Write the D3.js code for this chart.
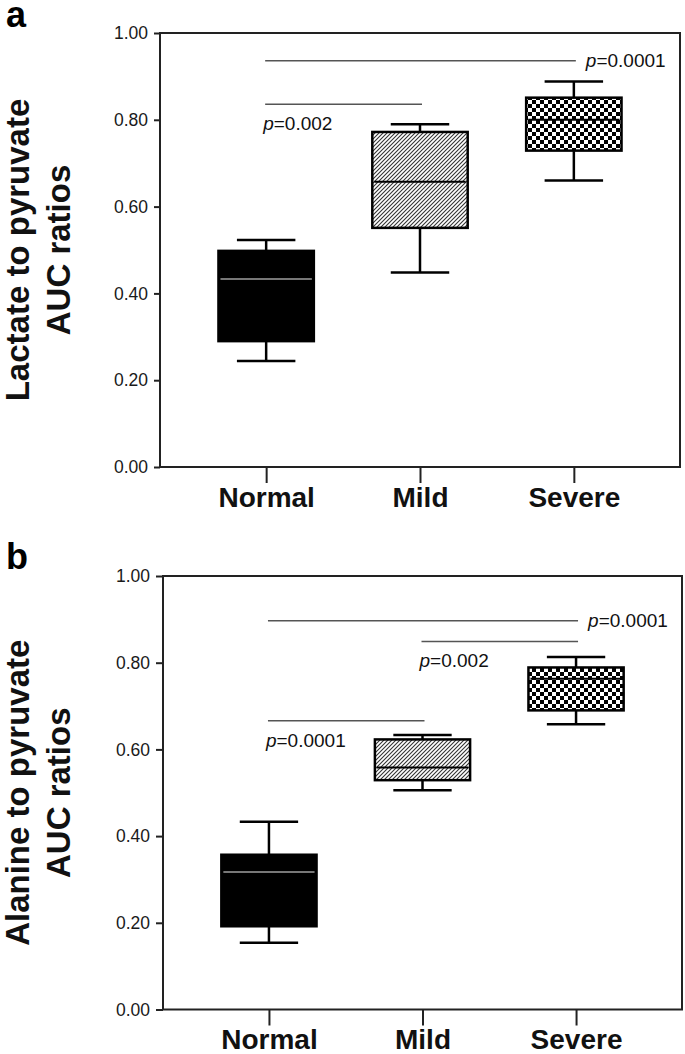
<!DOCTYPE html>
<html>
<head>
<meta charset="utf-8">
<script src="https://cdn.jsdelivr.net/npm/d3@7"></script>
<style>
  html, body { margin: 0; padding: 0; background: #fff; }
  svg { display: block; font-family: "Liberation Sans", Arial, sans-serif; }
</style>
</head>
<body>
<svg id="chart" width="685" height="1054"></svg>
<script>
// ---------- data ----------
const categories = ["Normal", "Mild", "Severe"];
const yTickValues = [0.0, 0.2, 0.4, 0.6, 0.8, 1.0];

// Panel a: Lactate to pyruvate AUC ratios
const lactateMin    = [0.244, 0.448, 0.660];
const lactateQ1     = [0.290, 0.551, 0.729];
const lactateMedian = [0.433, 0.657, 0.800];
const lactateQ3     = [0.498, 0.772, 0.851];
const lactateMax    = [0.523, 0.790, 0.888];
const lactateSigFrom  = ["Normal", "Normal"];
const lactateSigTo    = ["Severe", "Mild"];
const lactateSigLevel = [0.936, 0.836];
const lactateSigText  = ["0.0001", "0.002"];
const lactateSigSide  = ["right", "below"];
const lactateTitle = ["Lactate to pyruvate", "AUC ratios"];

// Panel b: Alanine to pyruvate AUC ratios
const alanineMin    = [0.154, 0.506, 0.658];
const alanineQ1     = [0.192, 0.529, 0.690];
const alanineMedian = [0.317, 0.558, 0.763];
const alanineQ3     = [0.357, 0.623, 0.789];
const alanineMax    = [0.433, 0.633, 0.813];
const alanineSigFrom  = ["Normal", "Mild", "Normal"];
const alanineSigTo    = ["Severe", "Severe", "Mild"];
const alanineSigLevel = [0.897, 0.849, 0.666];
const alanineSigText  = ["0.0001", "0.002", "0.0001"];
const alanineSigSide  = ["right", "below", "below"];
const alanineTitle = ["Alanine to pyruvate", "AUC ratios"];

// ---------- drawing ----------
const svg = d3.select("#chart");
const defs = svg.append("defs");

// hatch pattern (Mild)
const hatch = defs.append("pattern")
  .attr("id", "hatch").attr("patternUnits", "userSpaceOnUse")
  .attr("width", 4).attr("height", 4);
hatch.append("rect").attr("width", 4).attr("height", 4).attr("fill", "#fff");
hatch.append("path")
  .attr("d", "M-1,1 l2,-2 M0,4 l4,-4 M3,5 l2,-2")
  .attr("stroke", "#333").attr("stroke-width", 1.1);

// checker pattern (Severe)
const checker = defs.append("pattern")
  .attr("id", "checker").attr("patternUnits", "userSpaceOnUse")
  .attr("width", 8).attr("height", 8);
checker.append("rect").attr("width", 8).attr("height", 8).attr("fill", "#fff");
checker.append("rect").attr("x", 0).attr("y", 0).attr("width", 4).attr("height", 4).attr("fill", "#000");
checker.append("rect").attr("x", 4).attr("y", 4).attr("width", 4).attr("height", 4).attr("fill", "#000");

const fills = { Normal: "#000", Mild: "url(#hatch)", Severe: "url(#checker)" };
const medianColors = { Normal: "#777", Mild: "#000", Severe: "#000" };

function drawPanel(p) {
  const g = svg.append("g");
  const x = d3.scalePoint().domain(categories).range([p.left, p.right]).padding(0.69);
  const y = d3.scaleLinear().domain([0, 1]).range([p.bottom, p.top]);
  const step = x.step();
  const boxW = step * 0.62;
  const capW = step * 0.38;

  // frame
  g.append("rect")
    .attr("x", p.left).attr("y", p.top)
    .attr("width", p.right - p.left).attr("height", p.bottom - p.top)
    .attr("fill", "none").attr("stroke", "#222").attr("stroke-width", 2);

  // y axis
  const yAxis = g.append("g")
    .attr("transform", `translate(${p.left},0)`)
    .call(d3.axisLeft(y).tickValues(yTickValues).tickFormat(d3.format(".2f"))
      .tickSize(p.yTick).tickPadding(6));
  yAxis.select(".domain").remove();
  yAxis.selectAll("line").attr("stroke", "#222").attr("stroke-width", 2);
  yAxis.selectAll("text").attr("font-size", 17.5).attr("fill", "#1a1a1a")
    .attr("font-family", "'Liberation Sans', Arial, sans-serif");

  // x axis
  const xAxis = g.append("g")
    .attr("transform", `translate(0,${p.bottom})`)
    .call(d3.axisBottom(x).tickSize(16).tickPadding(4));
  xAxis.select(".domain").remove();
  xAxis.selectAll("line").attr("stroke", "#222").attr("stroke-width", 2);
  xAxis.selectAll("text").attr("font-size", 28).attr("font-weight", "bold")
    .attr("fill", "#111").attr("dy", "0.7em")
    .attr("font-family", "'Liberation Sans', Arial, sans-serif");

  // boxes
  const data = categories.map((c, i) => ({
    c, min: p.min[i], q1: p.q1[i], med: p.median[i], q3: p.q3[i], max: p.max[i]
  }));
  const bx = g.selectAll("g.box").data(data).join("g").attr("class", "box");
  // whiskers
  bx.append("line")
    .attr("x1", d => x(d.c)).attr("x2", d => x(d.c))
    .attr("y1", d => y(d.max)).attr("y2", d => y(d.q3))
    .attr("stroke", "#000").attr("stroke-width", 2.5);
  bx.append("line")
    .attr("x1", d => x(d.c)).attr("x2", d => x(d.c))
    .attr("y1", d => y(d.q1)).attr("y2", d => y(d.min))
    .attr("stroke", "#000").attr("stroke-width", 2.5);
  bx.append("line")
    .attr("x1", d => x(d.c) - capW / 2).attr("x2", d => x(d.c) + capW / 2)
    .attr("y1", d => y(d.max)).attr("y2", d => y(d.max))
    .attr("stroke", "#000").attr("stroke-width", 2.5);
  bx.append("line")
    .attr("x1", d => x(d.c) - capW / 2).attr("x2", d => x(d.c) + capW / 2)
    .attr("y1", d => y(d.min)).attr("y2", d => y(d.min))
    .attr("stroke", "#000").attr("stroke-width", 2.5);
  bx.append("rect")
    .attr("x", d => x(d.c) - boxW / 2).attr("width", boxW)
    .attr("y", d => y(d.q3)).attr("height", d => y(d.q1) - y(d.q3))
    .attr("fill", d => fills[d.c]).attr("stroke", "#000").attr("stroke-width", 2.5);
  bx.append("line")
    .attr("x1", d => x(d.c) - boxW / 2 + 2).attr("x2", d => x(d.c) + boxW / 2 - 2)
    .attr("y1", d => y(d.med)).attr("y2", d => y(d.med))
    .attr("stroke", d => medianColors[d.c]).attr("stroke-width", 2);

  // significance lines
  const sig = p.sigFrom.map((f, i) => ({
    from: f, to: p.sigTo[i], level: p.sigLevel[i], text: p.sigText[i], side: p.sigSide[i]
  }));
  g.selectAll("line.sig").data(sig).join("line").attr("class", "sig")
    .attr("x1", d => x(d.from) - 1).attr("x2", d => x(d.to) + 2)
    .attr("y1", d => y(d.level)).attr("y2", d => y(d.level))
    .attr("stroke", "#555").attr("stroke-width", 1.5);
  const st = g.selectAll("text.sig").data(sig).join("text").attr("class", "sig")
    .attr("x", d => d.side === "right" ? x(d.to) + 12 : x(d.from) - 3)
    .attr("y", d => d.side === "right" ? y(d.level) + 6.5 : y(d.level) + 26)
    .attr("font-size", 19).attr("fill", "#111");
  st.append("tspan").attr("font-style", "italic").text("p");
  st.append("tspan").text(d => "=" + d.text);

  // y title
  const cy = (p.top + p.bottom) / 2;
  g.selectAll("text.ytitle").data(p.title).join("text").attr("class", "ytitle")
    .attr("transform", (d, i) => `translate(${p.titleX[i]},${cy}) rotate(-90)`)
    .attr("text-anchor", "middle")
    .attr("font-size", 33).attr("font-weight", "bold").attr("fill", "#111")
    .text(d => d);

  // panel letter
  g.append("text").attr("x", 6).attr("y", p.letterY)
    .attr("font-size", 36).attr("font-weight", "bold").attr("fill", "#000")
    .text(p.letter);
}

drawPanel({
  left: 160, right: 680, top: 33, bottom: 467, yTick: 6,
  min: lactateMin, q1: lactateQ1, median: lactateMedian, q3: lactateQ3, max: lactateMax,
  sigFrom: lactateSigFrom, sigTo: lactateSigTo, sigLevel: lactateSigLevel,
  sigText: lactateSigText, sigSide: lactateSigSide,
  title: lactateTitle, titleX: [29, 70], letter: "a", letterY: 27
});
drawPanel({
  left: 163, right: 682, top: 576, bottom: 1009.5, yTick: 7,
  min: alanineMin, q1: alanineQ1, median: alanineMedian, q3: alanineQ3, max: alanineMax,
  sigFrom: alanineSigFrom, sigTo: alanineSigTo, sigLevel: alanineSigLevel,
  sigText: alanineSigText, sigSide: alanineSigSide,
  title: alanineTitle, titleX: [29, 70], letter: "b", letterY: 569
});
</script>
</body>
</html>
